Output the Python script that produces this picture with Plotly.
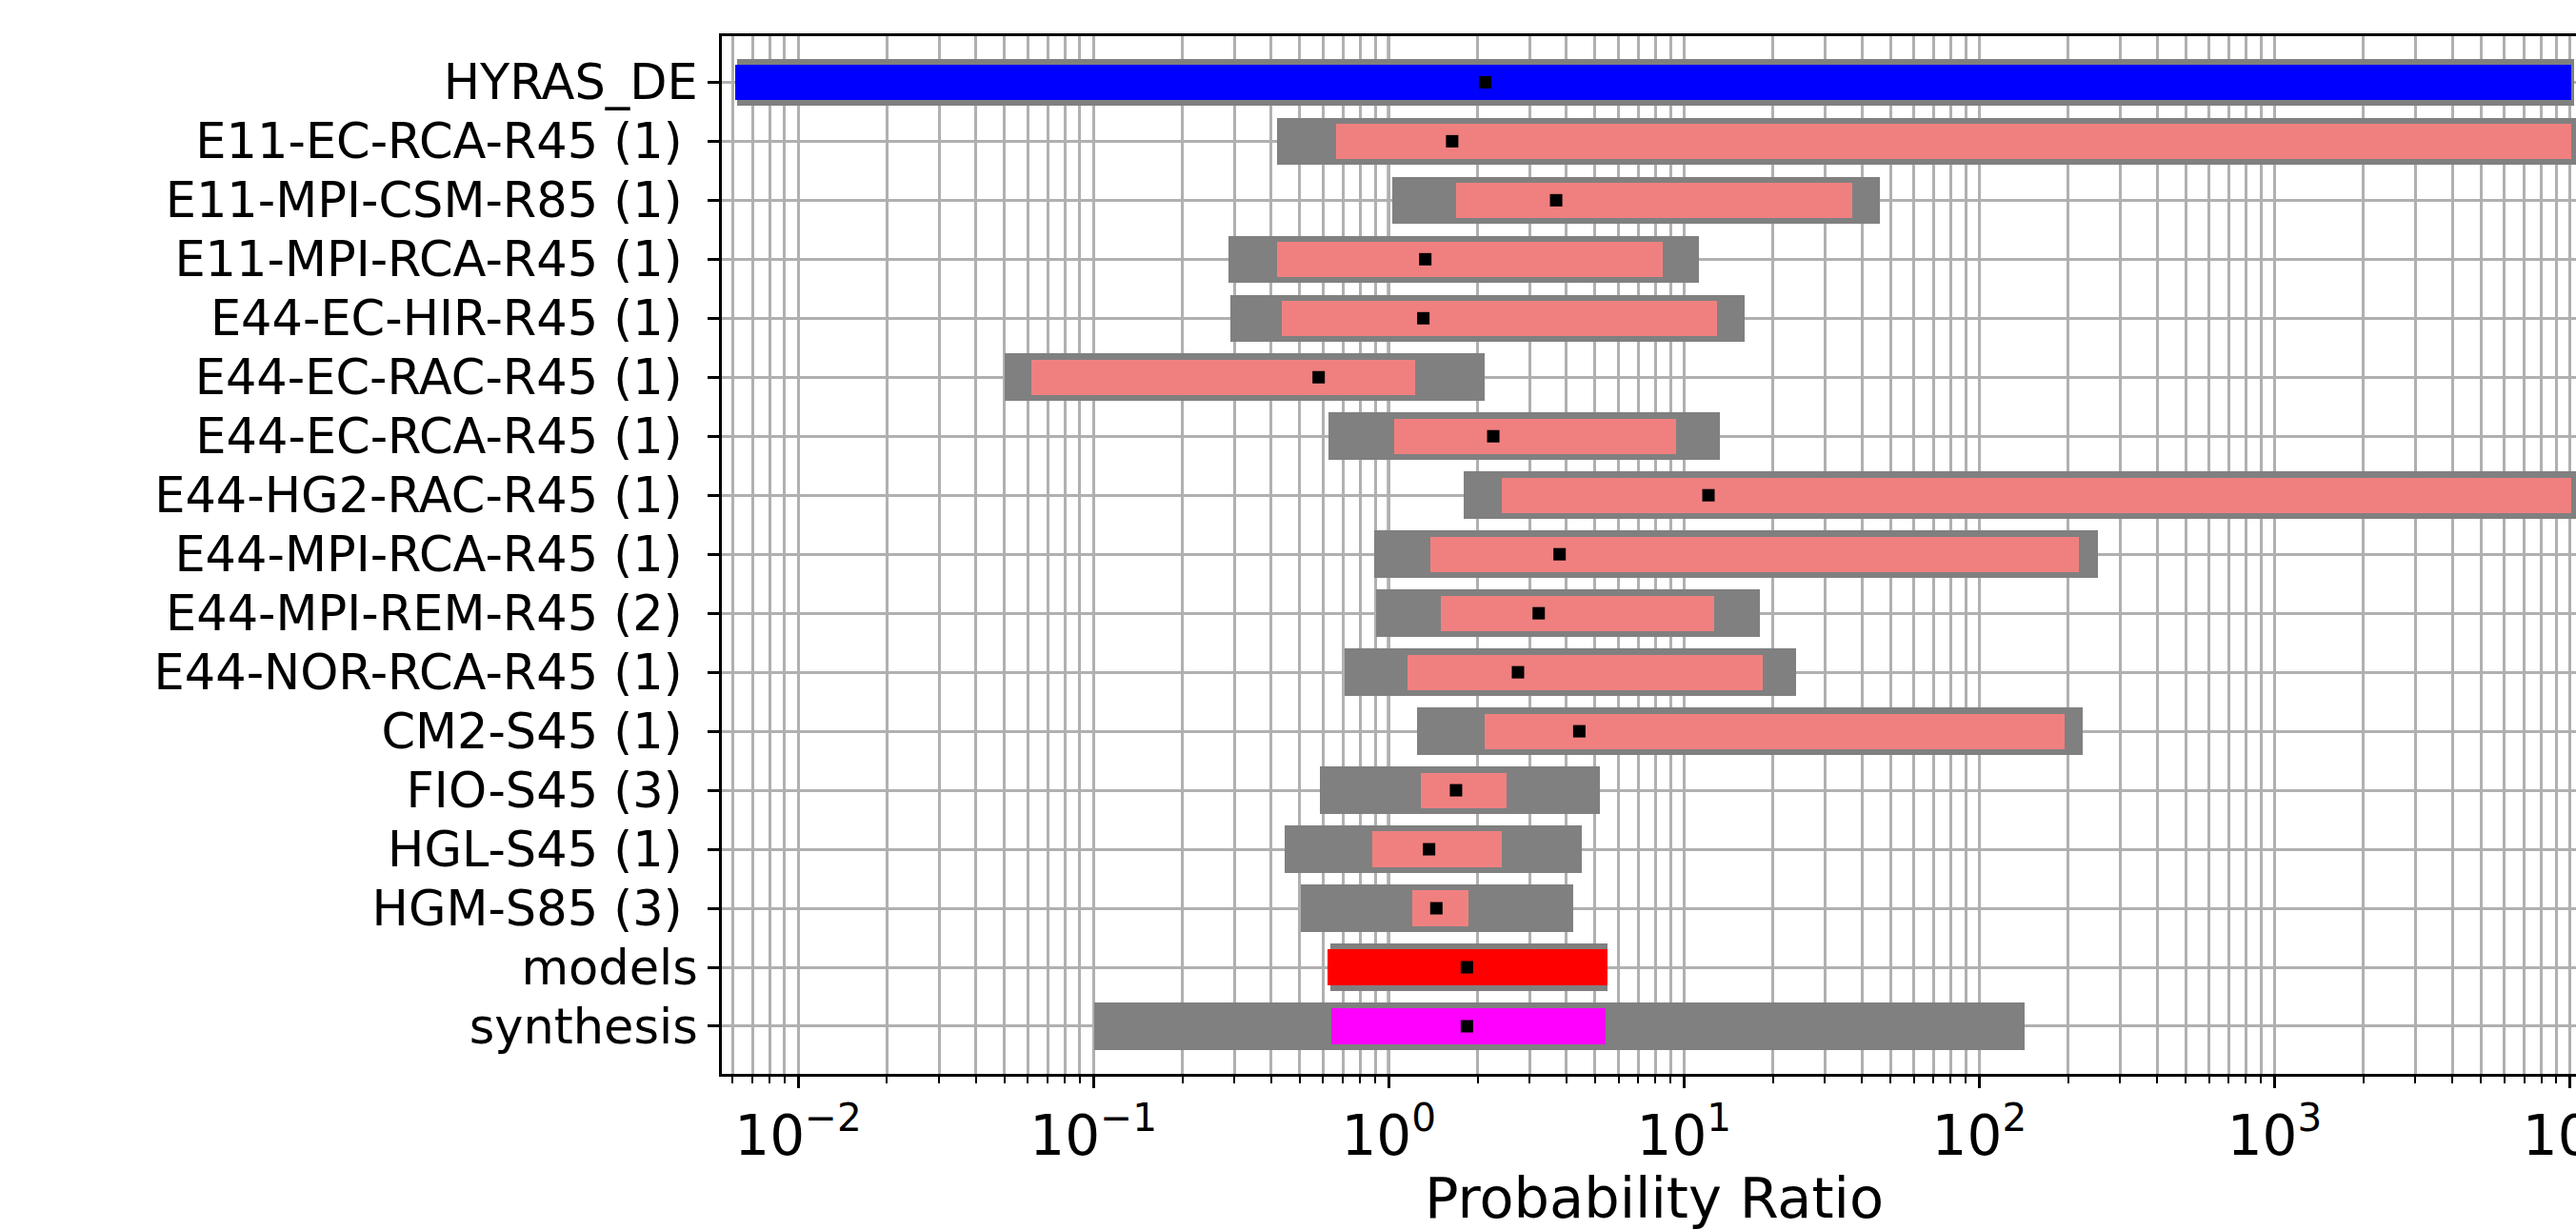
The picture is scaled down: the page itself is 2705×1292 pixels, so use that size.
import plotly.graph_objects as go

# ---------------- data ----------------
categories = [
    "HYRAS_DE",
    "E11-EC-RCA-R45 (1)",
    "E11-MPI-CSM-R85 (1)",
    "E11-MPI-RCA-R45 (1)",
    "E44-EC-HIR-R45 (1)",
    "E44-EC-RAC-R45 (1)",
    "E44-EC-RCA-R45 (1)",
    "E44-HG2-RAC-R45 (1)",
    "E44-MPI-RCA-R45 (1)",
    "E44-MPI-REM-R45 (2)",
    "E44-NOR-RCA-R45 (1)",
    "CM2-S45 (1)",
    "FIO-S45 (3)",
    "HGL-S45 (1)",
    "HGM-S85 (3)",
    "models",
    "synthesis",
]

best_estimate = [2.12, 1.64, 3.69, 1.33, 1.31, 0.579, 2.26, 12.1, 3.79, 3.22,
                 2.74, 4.42, 1.69, 1.37, 1.45, 1.84, 1.84]

inner_low = [0.0061, 0.664, 1.69, 0.42, 0.435, 0.0618, 1.046, 2.42, 1.38, 1.50,
             1.16, 2.11, 1.28, 0.877, 1.20, 0.621, 0.64]
inner_high = [10130, 10070, 37.1, 8.5, 12.9, 1.23, 9.39, 10070, 218, 12.65,
              18.5, 194, 2.51, 2.41, 1.86, 5.50, 5.43]

outer_low = [0.0062, 0.42, 1.03, 0.286, 0.292, 0.0501, 0.626, 1.80, 0.892, 0.908,
             0.711, 1.25, 0.584, 0.444, 0.505, 0.635, 0.1007]
outer_high = [10360, 10650, 46.0, 11.2, 16.1, 2.11, 13.2, 10740, 252, 18.1,
              23.9, 224, 5.20, 4.49, 4.23, 5.50, 142]

inner_colors = (["#0000FF"] + ["#F08080"] * 14 + ["#FF0000", "#FF00FF"])

tick_values = [0.01, 0.1, 1, 10, 100, 1000, 10000]
tick_labels = ["10<sup>\u22122</sup>", "10<sup>\u22121</sup>", "10<sup>0</sup>",
               "10<sup>1</sup>", "10<sup>2</sup>", "10<sup>3</sup>", "10<sup>4</sup>"]

x_title = "Probability Ratio"

# ---------------- figure ----------------
FONT = "DejaVu Sans"
W, H = 2705, 1292
ML, MR, MT, MB = 758, 0, 38, 164

ylabels = [c + "\u00a0" if c.endswith(")") else c for c in categories]

minor_vals = [m * 10.0 ** e for e in range(-3, 5) for m in range(2, 10)]

fig = go.Figure()

fig.add_trace(go.Bar(
    orientation="h",
    y=ylabels,
    base=outer_low,
    x=[h - l for l, h in zip(outer_low, outer_high)],
    width=0.8,
    marker=dict(color="#808080", line=dict(width=0)),
    showlegend=False,
    hoverinfo="skip",
))

fig.add_trace(go.Bar(
    orientation="h",
    y=ylabels,
    base=inner_low,
    x=[h - l for l, h in zip(inner_low, inner_high)],
    width=0.6,
    marker=dict(color=inner_colors, line=dict(width=0)),
    showlegend=False,
    hoverinfo="skip",
))

fig.add_trace(go.Scatter(
    x=best_estimate,
    y=ylabels,
    mode="markers",
    marker=dict(symbol="square", size=13, color="black", line=dict(width=0)),
    showlegend=False,
    hoverinfo="skip",
))

# vertical reference line at PR = 1
fig.add_shape(type="line", xref="x", yref="paper", x0=1, x1=1, y0=0, y1=1,
              line=dict(color="black", width=3), layer="between")

fig.update_layout(
    width=W, height=H,
    margin=dict(l=ML, r=MR, t=MT, b=MB, pad=0),
    paper_bgcolor="white",
    plot_bgcolor="white",
    barmode="overlay",
    bargap=0,
    font=dict(family=FONT, color="black"),
    showlegend=False,
)

fig.update_xaxes(
    type="log",
    range=[-2.2583, 4.0207],
    tickmode="array",
    tickvals=tick_values,
    ticktext=tick_labels,
    tickfont=dict(family=FONT, size=58, color="black"),
    ticklabeloverflow="allow",
    ticks="outside", ticklen=12, tickwidth=3, tickcolor="black",
    showline=True, linecolor="black", linewidth=3, mirror=True,
    showgrid=True, gridcolor="#b0b0b0", gridwidth=2.5,
    zeroline=False,
    minor=dict(tickmode="array", tickvals=minor_vals, ticks="outside",
               ticklen=7, tickwidth=2, tickcolor="black",
               showgrid=True, gridcolor="#b0b0b0", gridwidth=2.5),
    automargin=False,
)

fig.update_yaxes(
    type="category",
    categoryorder="array",
    categoryarray=ylabels,
    range=[16.807, -0.781],
    tickfont=dict(family=FONT, size=51, color="black"),
    ticklabeloverflow="allow",
    ticks="outside", ticklen=12, tickwidth=3, tickcolor="black",
    showline=True, linecolor="black", linewidth=3, mirror=False,
    showgrid=True, gridcolor="#b0b0b0", gridwidth=2.5,
    zeroline=False,
    automargin=False,
)

fig.add_annotation(
    text=x_title, xref="paper", yref="paper",
    x=(1737 - ML) / (W - ML - MR), y=-(1258 - (H - MB)) / (H - MT - MB),
    xanchor="center", yanchor="middle", showarrow=False,
    font=dict(family=FONT, size=59, color="black"),
)

fig.write_html(
    "out.html",
    config={"displayModeBar": False},
    post_script="document.body.style.margin='0';document.body.style.overflow='hidden';",
)
